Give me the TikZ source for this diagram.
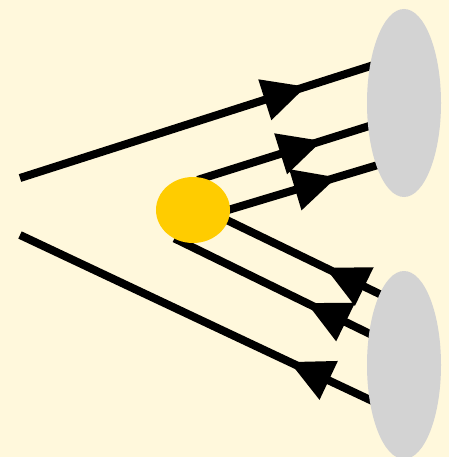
\documentclass[tikz,border=0pt]{standalone}
\usetikzlibrary{arrows.meta,decorations.markings,shapes.geometric,backgrounds}
\definecolor{bgcream}{HTML}{FFF8DC}
\definecolor{lensgray}{HTML}{D3D3D3}
\definecolor{sunyellow}{HTML}{FFCC00}

\begin{document}
\begin{tikzpicture}[x=1pt, y=-1pt,
    blob/.style={ellipse, fill=#1, draw=none, inner sep=0pt},
    ray/.style={line width=8pt, postaction={decorate},
      decoration={markings, mark=at position #1 with
        {\arrow{Triangle[length=43pt, width=43pt, line width=0pt]}}}}]
  \useasboundingbox (0,0) rectangle (449,457);
  \clip (0,0) rectangle (449,457);

  % 三个椭圆
  \node[blob=sunyellow, minimum width=74pt, minimum height=66pt] (sun) at (193,210) {};
  \node[blob=lensgray, minimum width=74pt, minimum height=188pt] (upper) at (404,103) {};
  \node[blob=lensgray, minimum width=74pt, minimum height=188pt] (lower) at (404,365) {};

  % 左侧两条光线的自由端
  \coordinate (L1) at (20,178);
  \coordinate (L2) at (20,235);

  \begin{pgfonlayer}{background}
    \fill[bgcream] (0,0) rectangle (449,457);
    % 外侧两条
    \draw[ray=300pt, shorten >=-6pt] (L1) -- (upper.133);
    \draw[ray=88pt, shorten <=-6pt] (lower.225) -- (L2);
    % 黄色椭圆与灰色椭圆之间
    \foreach \a/\b/\p in {sun.72/upper.213/124pt, sun.1/upper.246/111pt,
                          lower.109/sun.-17/60pt, lower.138/sun.247/69pt}
      \draw[ray=\p, shorten <=-6pt, shorten >=-6pt] (\a) -- (\b);
  \end{pgfonlayer}
\end{tikzpicture}
\end{document}
